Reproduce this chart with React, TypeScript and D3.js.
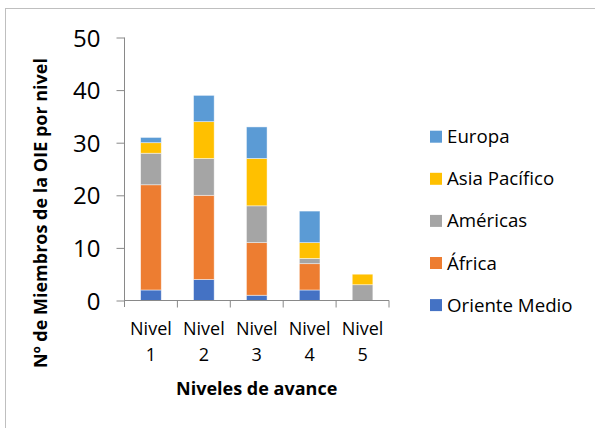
import React, { useRef, useEffect } from 'react';
import * as d3 from 'd3';

const categories = ['Nivel 1', 'Nivel 2', 'Nivel 3', 'Nivel 4', 'Nivel 5'];
const regions = ['Oriente Medio', 'África', 'Américas', 'Asia Pacífico', 'Europa'];
const orienteMedio = [2, 4, 1, 2, 0];
const africa = [20, 16, 10, 5, 0];
const americas = [6, 7, 7, 1, 3];
const asiaPacifico = [2, 7, 9, 3, 2];
const europa = [1, 5, 6, 6, 0];
const yTicks = [0, 10, 20, 30, 40, 50];
const colors = ['#4472C4', '#ED7D31', '#A5A5A5', '#FFC000', '#5B9BD5'];

const FONT = "'Open Sans', 'Noto Sans', sans-serif";

export default function App() {
  const ref = useRef<SVGSVGElement | null>(null);

  useEffect(() => {
    if (!ref.current) return;
    const svg = d3.select(ref.current);
    svg.selectAll('*').remove();

    const rows = categories.map((c, i) => ({
      cat: c,
      'Oriente Medio': orienteMedio[i],
      'África': africa[i],
      'Américas': americas[i],
      'Asia Pacífico': asiaPacifico[i],
      'Europa': europa[i],
    }));

    const x = d3.scaleBand<string>()
      .domain(categories)
      .range([124.5, 389])
      .paddingInner(0.61)
      .paddingOuter(0.305);

    const y = d3.scaleLinear().domain([0, 50]).range([300.5, 37.5]);

    // chart border
    svg.append('rect')
      .attr('x', 5.5).attr('y', 8.5)
      .attr('width', 620).attr('height', 440)
      .attr('fill', 'white')
      .attr('stroke', '#bfbfbf')
      .attr('stroke-width', 1);

    const stack = d3.stack<any>().keys(regions)(rows);

    svg.append('g')
      .selectAll('g')
      .data(stack)
      .join('g')
      .attr('fill', (_, i) => colors[i])
      .selectAll('rect')
      .data(d => d)
      .join('rect')
      .attr('x', d => x(d.data.cat) as number)
      .attr('width', x.bandwidth())
      .attr('y', d => y(d[1]))
      .attr('height', d => y(d[0]) - y(d[1]))
      .attr('stroke', 'white')
      .attr('stroke-opacity', 0.6)
      .attr('stroke-width', 0.75);

    // y axis
    const yAxis = svg.append('g')
      .attr('transform', 'translate(124.5,0)')
      .call(d3.axisLeft(y).tickValues(yTicks).tickSize(8).tickPadding(16).tickSizeOuter(0));
    yAxis.select('.domain').attr('stroke', '#898989').attr('d', 'M0,37.5V307');
    yAxis.selectAll('line').attr('stroke', '#898989');
    yAxis.selectAll('text')
      .attr('font-family', FONT)
      .attr('font-size', 24)
      .attr('fill', '#000')
      .attr('dy', '0.36em');

    // x axis
    const xg = svg.append('g');
    xg.append('line')
      .attr('x1', 124.5).attr('x2', 389)
      .attr('y1', y(0)).attr('y2', y(0))
      .attr('stroke', '#898989');
    const step = x.step();
    xg.selectAll('.tk')
      .data(d3.range(1, categories.length + 1))
      .join('line')
      .attr('x1', i => 124.5 + i * step)
      .attr('x2', i => 124.5 + i * step)
      .attr('y1', y(0)).attr('y2', y(0) + 7)
      .attr('stroke', '#898989');

    const lbl = xg.selectAll('.lbl')
      .data(categories)
      .join('text')
      .attr('font-family', FONT)
      .attr('font-size', 18)
      .attr('text-anchor', 'middle')
      .attr('x', d => (x(d) as number) + x.bandwidth() / 2);
    lbl.append('tspan')
      .attr('y', 335)
      .attr('x', d => (x(d) as number) + x.bandwidth() / 2)
      .text(d => d.split(' ')[0]);
    lbl.append('tspan')
      .attr('y', 361)
      .attr('x', d => (x(d) as number) + x.bandwidth() / 2)
      .text(d => d.split(' ')[1]);

    // axis titles
    svg.append('text')
      .attr('x', 256.7).attr('y', 395)
      .attr('text-anchor', 'middle')
      .attr('font-family', FONT)
      .attr('font-size', 18)
      .attr('font-weight', 'bold')
      .text('Niveles de avance');

    svg.append('text')
      .attr('transform', 'translate(47,213) rotate(-90)')
      .attr('text-anchor', 'middle')
      .attr('font-family', FONT)
      .attr('font-size', 18)
      .attr('font-weight', 'bold')
      .text('Nº de Miembros de la OIE por nivel');

    // legend (reverse order)
    const legendItems = regions.map((r, i) => ({ r, c: colors[i] })).reverse();
    const lg = svg.append('g')
      .selectAll('g')
      .data(legendItems)
      .join('g')
      .attr('transform', (_, i) => `translate(430,${136.7 + i * 42.1})`);
    lg.append('rect')
      .attr('x', 0).attr('y', -6)
      .attr('width', 12).attr('height', 12)
      .attr('fill', d => d.c);
    lg.append('text')
      .attr('x', 17).attr('dy', '0.35em')
      .attr('font-family', FONT)
      .attr('font-size', 18.7)
      .text(d => d.r);
  }, []);

  return (
    <svg ref={ref} width={595} height={428}
      style={{ position: 'absolute', left: 0, top: 0 }} />
  );
}
